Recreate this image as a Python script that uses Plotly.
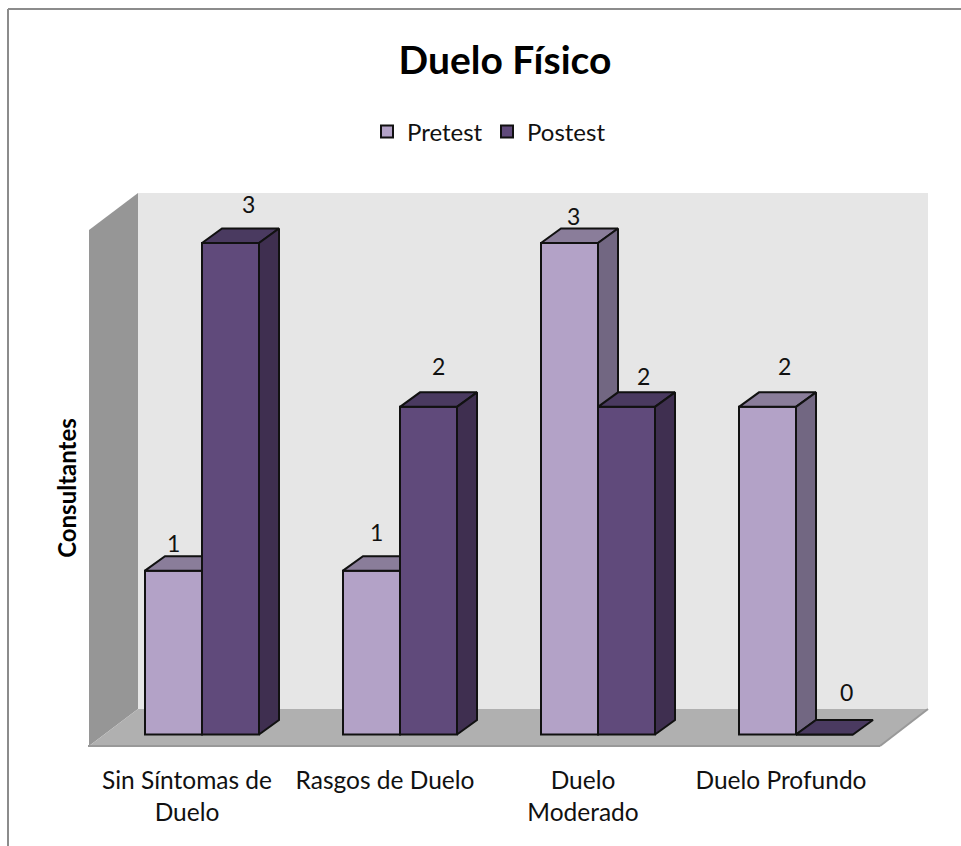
import plotly.graph_objects as go

# ---------- data ----------
FIRST_LINES = ["Sin Síntomas de", "Rasgos de Duelo", "Duelo", "Duelo Profundo"]
SECOND_LINES = ["Duelo", "", "Moderado", ""]
PRETEST = [1, 1, 3, 2]
POSTEST = [3, 2, 2, 0]
TITLE = "Duelo Físico"
Y_TITLE = "Consultantes"

# ---------- page geometry (pixels) ----------
W, H = 961, 846
PX_PER_CAT = 198.0
CAT0_PX = 187.0
ZERO_PX = 734.5
PX_PER_UNIT = 163.83
DEPTH_X, DEPTH_Y = 20.0, 14.5
PLOT_TOP_PX = 130.0
FONT = "Lato"

BAR_W = 57 / PX_PER_CAT
PRE_OFF = -42 / PX_PER_CAT
POST_OFF = 15 / PX_PER_CAT
DX = DEPTH_X / PX_PER_CAT
DY = DEPTH_Y / PX_PER_UNIT

x_range = [(0 - CAT0_PX) / PX_PER_CAT, (W - CAT0_PX) / PX_PER_CAT]
y_range = [(ZERO_PX - H) / PX_PER_UNIT, (ZERO_PX - PLOT_TOP_PX) / PX_PER_UNIT]
y_domain = [0, (H - PLOT_TOP_PX) / H]

# label nudges relative to each bar's front-top-centre (pixels)
PRE_LABEL_SHIFT = [(0, 28), (5, 39), (4, 27), (17, 41)]
POST_LABEL_SHIFT = [(18, 39), (10, 41), (17, 31), (22, 43)]

PRE_COLORS = dict(front="#B3A2C7", side="#726782", top="#8A7D9A")
POST_COLORS = dict(front="#604A7B", side="#3F2F50", top="#4A3A60")
EDGE = "#111111"


def px(x):
    return x / W


def py(y):
    return 1 - y / H


def poly(points, fill, line=None, width=0):
    path = "M" + "L".join(f"{px(a)},{py(b)}" for a, b in points) + "Z"
    return dict(type="path", path=path, xref="paper", yref="paper", fillcolor=fill,
                line=dict(color=line or fill, width=width), layer="below")


fig = go.Figure()


def add_series(name, values, offset, colors, xa, ya):
    fig.add_trace(go.Bar(
        name=name, x=list(range(len(values))), y=values, width=BAR_W, offset=offset,
        marker=dict(color=colors["front"], line=dict(color=EDGE, width=2)),
        xaxis=xa, yaxis=ya, hoverinfo="x+y",
    ))
    for i, v in enumerate(values):
        x0, x1 = i + offset, i + offset + BAR_W
        # top face
        fig.add_trace(go.Scatter(
            x=[x0, x1, x1 + DX, x0 + DX, x0], y=[v, v, v + DY, v + DY, v],
            fill="toself", fillcolor=colors["top"], mode="lines",
            line=dict(color=EDGE, width=2), showlegend=False, hoverinfo="skip",
            xaxis=xa, yaxis=ya))
        # side face
        if v > 0:
            fig.add_trace(go.Scatter(
                x=[x1, x1 + DX, x1 + DX, x1, x1], y=[0, DY, v + DY, v, 0],
                fill="toself", fillcolor=colors["side"], mode="lines",
                line=dict(color=EDGE, width=2), showlegend=False, hoverinfo="skip",
                xaxis=xa, yaxis=ya))


add_series("Pretest", PRETEST, PRE_OFF, PRE_COLORS, "x", "y")
add_series("Postest", POSTEST, POST_OFF, POST_COLORS, "x2", "y2")

annotations = []
for values, offset, shifts in ((PRETEST, PRE_OFF, PRE_LABEL_SHIFT), (POSTEST, POST_OFF, POST_LABEL_SHIFT)):
    for i, v in enumerate(values):
        annotations.append(dict(
            x=i + offset + BAR_W / 2, y=v, xref="x", yref="y", text=str(v), showarrow=False,
            xshift=shifts[i][0], yshift=shifts[i][1], xanchor="center", yanchor="middle",
            font=dict(family=FONT, size=23, color="#111111")))

shapes = [
    # back wall
    poly([(138, 193), (928, 193), (928, 709), (138, 709)], "#E6E6E6"),
    # left wall
    poly([(89, 230), (138, 193), (138, 709), (89, 746)], "#969696"),
    # floor
    poly([(89, 746), (138, 709), (928, 709), (880, 746)], "#B0B0B0"),
    dict(type="line", xref="paper", yref="paper", x0=px(88), x1=px(880), y0=py(746), y1=py(746),
         line=dict(color="#999999", width=2), layer="below"),
    dict(type="line", xref="paper", yref="paper", x0=px(880), x1=px(928), y0=py(746), y1=py(709),
         line=dict(color="#999999", width=2), layer="below"),
    # frame of the chart (top and left only are visible)
    dict(type="line", xref="paper", yref="paper", x0=px(8), x1=1, y0=py(9), y1=py(9),
         line=dict(color="#8C8C8C", width=2)),
    dict(type="line", xref="paper", yref="paper", x0=px(8), x1=px(8), y0=py(9), y1=0,
         line=dict(color="#8C8C8C", width=2)),
]

tick_font = dict(family=FONT, size=24.5, color="#111111")
common_x = dict(range=x_range, domain=[0, 1], anchor="free", position=py(746),
                tickmode="array", tickvals=list(range(len(FIRST_LINES))),
                showgrid=False, zeroline=False, showline=False,
                ticks="outside", tickcolor="rgba(0,0,0,0)", tickfont=tick_font, automargin=False)

fig.update_layout(
    width=W, height=H, margin=dict(l=0, r=0, t=0, b=0, pad=0),
    paper_bgcolor="white", plot_bgcolor="rgba(0,0,0,0)",
    font=dict(family=FONT, color="#111111"),
    barmode="overlay", showlegend=True,
    title=dict(text=f"<b>{TITLE}</b>", x=505 / W, xanchor="center", y=py(60), yanchor="middle",
               font=dict(family=FONT, size=39, color="#000000")),
    legend=dict(orientation="h", x=367 / W, y=py(132), xanchor="left", yanchor="middle",
                font=dict(family=FONT, size=24, color="#111111"), traceorder="normal",
                bgcolor="rgba(0,0,0,0)", entrywidth=75, entrywidthmode="pixels", itemclick=False),
    xaxis=dict(ticktext=FIRST_LINES, ticklen=13, **common_x),
    xaxis2=dict(ticktext=SECOND_LINES, ticklen=45, overlaying="x", **common_x),
    yaxis=dict(range=y_range, domain=y_domain, anchor="free", position=89 / W, showgrid=False,
               zeroline=False, showline=False, showticklabels=False, ticks="", automargin=False,
               title=dict(text=f"<b>{Y_TITLE}</b>", standoff=4, font=dict(family=FONT, size=24, color="#000000"))),
    yaxis2=dict(range=y_range, domain=y_domain, overlaying="y", anchor="x2", showgrid=False,
                zeroline=False, showline=False, showticklabels=False, ticks=""),
    shapes=shapes, annotations=annotations,
)

fig.write_html("out.html", config=dict(displayModeBar=False),
               post_script="document.body.style.margin='0';")
